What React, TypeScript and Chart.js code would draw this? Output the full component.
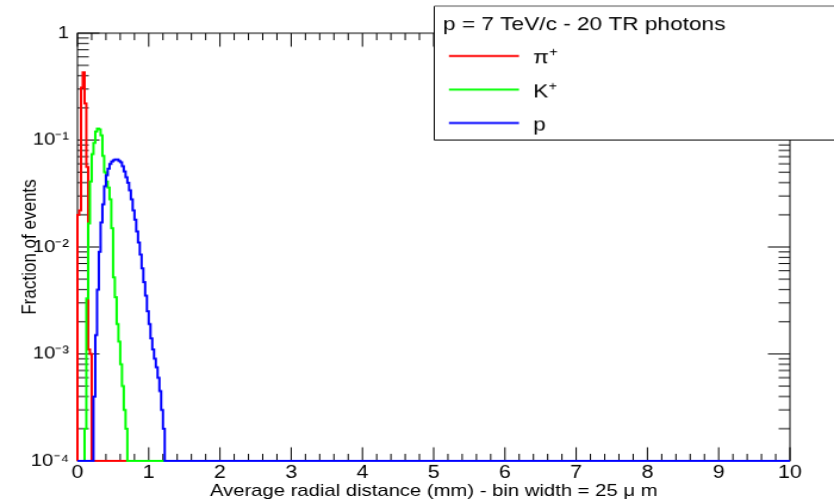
import { useEffect, useRef } from 'react';
import { Chart, registerables } from 'chart.js';

Chart.register(...registerables);

// ---- axis ranges and ticks ----
const X_MIN = 0;
const X_MAX = 10;
const Y_MIN = 1e-4;
const Y_MAX = 1;
const X_TICK_VALUES = [0, 1, 2, 3, 4, 5, 6, 7, 8, 9, 10];
const X_TICK_LABELS = ['0', '1', '2', '3', '4', '5', '6', '7', '8', '9', '10'];
const X_MINOR_DIVISIONS = 5;
const Y_TICK_VALUES = [1e-4, 1e-3, 1e-2, 1e-1, 1];
const Y_TICK_LABELS = ['10⁻⁴', '10⁻³', '10⁻²', '10⁻¹', '1'];
const Y_MINOR_MULTIPLIERS = [2, 3, 4, 5, 6, 7, 8, 9];

// ---- texts ----
const X_TITLE = 'Average radial distance (mm) - bin width = 25 μ m';
const Y_TITLE = 'Fraction of events';
const LEGEND_TITLE = 'p = 7 TeV/c - 20 TR photons';
const SERIES_LABELS = ['π⁺', 'K⁺', 'p'];
const SERIES_COLORS = ['#ff0000', '#00ff00', '#0000ff'];

// ---- histogram binning ----
const BIN_WIDTH = 0.025;
const N_BINS = 400;

// ---- series values (fraction of events per bin) ----
const pionStartBin = 0;
const pionValues = [0.02, 0.022, 0.31, 0.43, 0.22, 0.056, 0.0011, 0.001];

const kaonStartBin = 4;
const kaonValues = [
  0.0002, 0.0033, 0.0166, 0.041, 0.074, 0.094, 0.12, 0.128, 0.126, 0.111,
  0.071, 0.05, 0.041, 0.036, 0.028, 0.015, 0.0052, 0.0034, 0.0019, 0.0013,
  0.0008, 0.0005, 0.0003, 0.0002,
];

const protonStartBin = 9;
const protonValues = [
  0.0004, 0.0015, 0.004, 0.009, 0.017, 0.025, 0.037, 0.047, 0.054, 0.06,
  0.063, 0.065, 0.066, 0.066, 0.064, 0.062, 0.057, 0.051, 0.045, 0.04,
  0.034, 0.028, 0.022, 0.018, 0.014, 0.011, 0.0085, 0.0063, 0.0047, 0.0035,
  0.0025, 0.0019, 0.0014, 0.0011, 0.0009, 0.00075, 0.0006, 0.00045, 0.0003, 0.0002,
];

const FONT_FAMILY = '"Liberation Sans", Arial, Helvetica, sans-serif';

function buildHistogram(startBin: number, values: number[]) {
  const bins: number[] = new Array(N_BINS).fill(0);
  values.forEach((v, i) => {
    bins[startBin + i] = v;
  });
  // zero bins are drawn on the lower frame edge, as ROOT does on a log axis
  const pts: { x: number; y: number }[] = [{ x: X_MIN, y: Y_MIN }];
  bins.forEach((v, i) => {
    pts.push({ x: X_MIN + i * BIN_WIDTH, y: v > Y_MIN ? v : Y_MIN });
  });
  pts.push({ x: X_MAX, y: bins[N_BINS - 1] > Y_MIN ? bins[N_BINS - 1] : Y_MIN });
  return pts;
}

const framePlugin = {
  id: 'rootFrame',
  beforeDatasetsDraw(chart: any) {
    const { ctx, chartArea } = chart;
    const { left, right, top, bottom } = chartArea;
    const xs = chart.scales.x;
    const ys = chart.scales.y;
    ctx.save();
    ctx.strokeStyle = '#000';
    ctx.lineWidth = 1;
    ctx.strokeRect(left, top, right - left, bottom - top);
    ctx.beginPath();
    // y ticks (left and right)
    const yMajor = 18.5;
    const yMinor = 9.5;
    for (let d = 0; d < Y_TICK_VALUES.length; d++) {
      const dec = Y_TICK_VALUES[d];
      const py = ys.getPixelForValue(dec);
      ctx.moveTo(left, py);
      ctx.lineTo(left + yMajor, py);
      ctx.moveTo(right, py);
      ctx.lineTo(right - yMajor, py);
      if (d < Y_TICK_VALUES.length - 1) {
        for (const m of Y_MINOR_MULTIPLIERS) {
          const p = ys.getPixelForValue(dec * m);
          ctx.moveTo(left, p);
          ctx.lineTo(left + yMinor, p);
          ctx.moveTo(right, p);
          ctx.lineTo(right - yMinor, p);
        }
      }
    }
    // x ticks (bottom and top)
    const xMajor = 13.5;
    const xMinor = 7;
    for (let i = 0; i < X_TICK_VALUES.length; i++) {
      const v = X_TICK_VALUES[i];
      const px = xs.getPixelForValue(v);
      ctx.moveTo(px, bottom);
      ctx.lineTo(px, bottom - xMajor);
      ctx.moveTo(px, top);
      ctx.lineTo(px, top + xMajor);
      if (i < X_TICK_VALUES.length - 1) {
        const step = (X_TICK_VALUES[i + 1] - v) / X_MINOR_DIVISIONS;
        for (let k = 1; k < X_MINOR_DIVISIONS; k++) {
          const p = xs.getPixelForValue(v + k * step);
          ctx.moveTo(p, bottom);
          ctx.lineTo(p, bottom - xMinor);
          ctx.moveTo(p, top);
          ctx.lineTo(p, top + xMinor);
        }
      }
    }
    ctx.stroke();
    ctx.restore();
  },
};

const legendPlugin = {
  id: 'rootLegend',
  afterDraw(chart: any) {
    const { ctx } = chart;
    const bx = 364.5;
    const by = 6;
    const bRight = chart.width + 2;
    const bBottom = 139.5;
    ctx.save();
    ctx.fillStyle = '#fff';
    ctx.fillRect(bx, by, bRight - bx, bBottom - by);
    ctx.strokeStyle = '#000';
    ctx.lineWidth = 1;
    ctx.beginPath();
    ctx.moveTo(bx, by);
    ctx.lineTo(bx, bBottom);
    ctx.lineTo(bRight, bBottom);
    ctx.stroke();
    ctx.strokeStyle = '#8c8c8c';
    ctx.lineWidth = 1.5;
    ctx.beginPath();
    ctx.moveTo(bx, by);
    ctx.lineTo(bRight, by);
    ctx.stroke();

    ctx.fillStyle = '#000';
    ctx.textBaseline = 'alphabetic';
    ctx.textAlign = 'left';
    ctx.font = `19px ${FONT_FAMILY}`;
    ctx.fillText(LEGEND_TITLE, 371.8, 30);

    chart.data.datasets.forEach((ds: any, i: number) => {
      const y = 55.8 + i * 33.4;
      ctx.strokeStyle = ds.borderColor;
      ctx.lineWidth = 2;
      ctx.beginPath();
      ctx.moveTo(376.8, y);
      ctx.lineTo(435.6, y);
      ctx.stroke();
      const label: string = ds.label;
      const sup = label.endsWith('⁺') ? '+' : '';
      const base = sup ? label.slice(0, -1) : label;
      ctx.fillStyle = '#000';
      ctx.font = `19px ${FONT_FAMILY}`;
      const tx = 447.4;
      const ty = y + 7.5;
      ctx.fillText(base, tx, ty);
      if (sup) {
        const w = ctx.measureText(base).width;
        ctx.font = `12px ${FONT_FAMILY}`;
        ctx.fillText(sup, tx + w + 0.5, ty - 7);
      }
    });
    ctx.restore();
  },
};

export default function App() {
  const canvasRef = useRef<HTMLCanvasElement | null>(null);

  useEffect(() => {
    document.body.style.margin = '0';
    const canvas = canvasRef.current;
    if (!canvas) return;

    const starts = [pionStartBin, kaonStartBin, protonStartBin];
    const values = [pionValues, kaonValues, protonValues];
    const orders = [3, 2, 1];

    const chart = new Chart(canvas, {
      type: 'line',
      data: {
        datasets: SERIES_LABELS.map((label, i) => ({
          label,
          data: buildHistogram(starts[i], values[i]),
          borderColor: SERIES_COLORS[i],
          backgroundColor: SERIES_COLORS[i],
          borderWidth: 2,
          stepped: true,
          pointRadius: 0,
          pointHoverRadius: 0,
          fill: false,
          tension: 0,
          order: orders[i],
          clip: false as any,
        })),
      },
      options: {
        responsive: false,
        maintainAspectRatio: false,
        animation: false,
        devicePixelRatio: 1,
        events: [],
        layout: { padding: { top: 33, right: 37, left: 0, bottom: 0 } },
        plugins: {
          legend: { display: false },
          tooltip: { enabled: false },
        },
        scales: {
          x: {
            type: 'linear',
            min: X_MIN,
            max: X_MAX,
            afterBuildTicks: (s: any) => {
              s.ticks = X_TICK_VALUES.map((value) => ({ value }));
            },
            afterFit: (s: any) => {
              s.height = 41;
            },
            ticks: {
              autoSkip: false,
              maxRotation: 0,
              padding: 1,
              color: '#000',
              font: { family: FONT_FAMILY, size: 18 },
              callback: (_v: any, i: number) => X_TICK_LABELS[i],
            },
            grid: { display: false, drawTicks: false },
            border: { display: false },
            title: {
              display: true,
              text: X_TITLE,
              color: '#000',
              font: { family: FONT_FAMILY, size: 17 },
              padding: { top: 1, bottom: 0 },
            },
          },
          y: {
            type: 'logarithmic',
            min: Y_MIN,
            max: Y_MAX,
            afterBuildTicks: (s: any) => {
              s.ticks = Y_TICK_VALUES.map((value) => ({ value, major: true }));
            },
            afterFit: (s: any) => {
              s.width = 65;
            },
            ticks: {
              autoSkip: false,
              padding: 7,
              color: '#000',
              font: { family: FONT_FAMILY, size: 17 },
              callback: (_v: any, i: number) => Y_TICK_LABELS[i],
            },
            grid: { display: false, drawTicks: false },
            border: { display: false },
            title: {
              display: true,
              text: Y_TITLE,
              color: '#000',
              font: { family: FONT_FAMILY, size: 17 },
              padding: { top: 15, bottom: 0 },
            },
          },
        },
      },
      plugins: [framePlugin, legendPlugin],
    });

    return () => {
      chart.destroy();
    };
  }, []);

  return (
    <div style={{ width: 834, height: 502 }}>
      <canvas
        ref={canvasRef}
        width={700}
        height={500}
        style={{ width: '834px', height: '502px', display: 'block' }}
      />
    </div>
  );
}
